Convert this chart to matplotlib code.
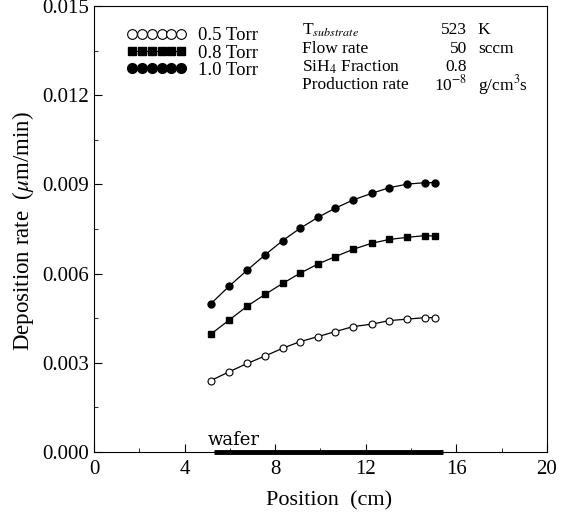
import numpy as np
import matplotlib
matplotlib.use('Agg')
import matplotlib.pyplot as plt
from matplotlib.ticker import MultipleLocator, FormatStrFormatter

plt.rcParams['font.family'] = ['Liberation Serif', 'DejaVu Serif']
plt.rcParams['mathtext.fontset'] = 'stix'

# 数据
position = [5.15, 5.97, 6.77, 7.55, 8.33, 9.09, 9.88, 10.65, 11.45, 12.26, 13.04, 13.83, 14.63, 15.06]
rate_05 = [0.00240, 0.00270, 0.00298, 0.00323, 0.00349, 0.00371, 0.00388,
           0.00405, 0.00422, 0.00430, 0.00442, 0.00447, 0.00452, 0.00452]
rate_08 = [0.00396, 0.00444, 0.00491, 0.00530, 0.00567, 0.00601, 0.00632,
           0.00657, 0.00682, 0.00702, 0.00715, 0.00722, 0.00728, 0.00726]
rate_10 = [0.00498, 0.00558, 0.00612, 0.00663, 0.00711, 0.00752, 0.00789,
           0.00820, 0.00848, 0.00870, 0.00889, 0.00901, 0.00906, 0.00906]
wafer_x = [5.3, 15.4]

cond_labels = [r'T$_{\it substrate}$', 'Flow rate', r'SiH$_4$ Fraction', 'Production rate']
cond_values = ['523', '50', '0.8', r'10$^{-8}$']
cond_units = ['K', 'sccm', '', r'g/cm$^3$s']

fig = plt.figure(figsize=(5.61, 5.15), dpi=100)
ax = fig.add_axes([0.1676, 0.1223, 0.8074, 0.8660])

ax.plot(position, rate_05, '-o', color='black', mfc='white', ms=5, lw=0.9, mew=0.8, label='0.5 Torr')
ax.plot(position, rate_08, '-s', color='black', ms=4.5, lw=0.9, label='0.8 Torr')
ax.plot(position, rate_10, '-o', color='black', ms=5, lw=0.9, label='1.0 Torr')

# wafer
ax.plot(wafer_x, [0, 0], color='black', lw=3.5, solid_capstyle='butt', clip_on=False, zorder=5)
ax.text(5.0, 0.00025, 'wafer', fontsize=13, family='DejaVu Serif')

ax.set_xlim(0, 20)
ax.set_ylim(0, 0.015)
ax.xaxis.set_major_locator(MultipleLocator(4))
ax.xaxis.set_minor_locator(MultipleLocator(2))
ax.yaxis.set_major_locator(MultipleLocator(0.003))
ax.yaxis.set_minor_locator(MultipleLocator(0.0015))
ax.yaxis.set_major_formatter(FormatStrFormatter('%.3f'))
ax.tick_params(which='both', direction='in', labelsize=15)
ax.tick_params(which='major', length=6)
ax.tick_params(which='minor', length=3)
ax.tick_params(axis='x', pad=6)
ax.set_xlabel('Position  (cm)', fontsize=16)
ax.set_ylabel(r'Deposition rate  ($\mu$m/min)', fontsize=16.5)
ax.xaxis.set_label_coords(0.52, -0.088)
ax.yaxis.set_label_coords(-0.127, 0.496)

leg = ax.legend(loc='upper left', bbox_to_anchor=(0.035, 0.99), frameon=False, numpoints=6,
                handlelength=3.2, handletextpad=0.6, labelspacing=0.0, fontsize=13.5, markerscale=1.4)

rows_y = [0.01418, 0.01356, 0.01295, 0.01235]
for i in range(4):
    ax.text(9.18, rows_y[i], cond_labels[i], fontsize=12.5, va='center')
    ax.text(16.47, rows_y[i], cond_values[i], fontsize=12.5, va='center', ha='right')
    ax.text(16.95, rows_y[i], cond_units[i], fontsize=12.5, va='center')

fig.savefig('out.png', dpi=100)
